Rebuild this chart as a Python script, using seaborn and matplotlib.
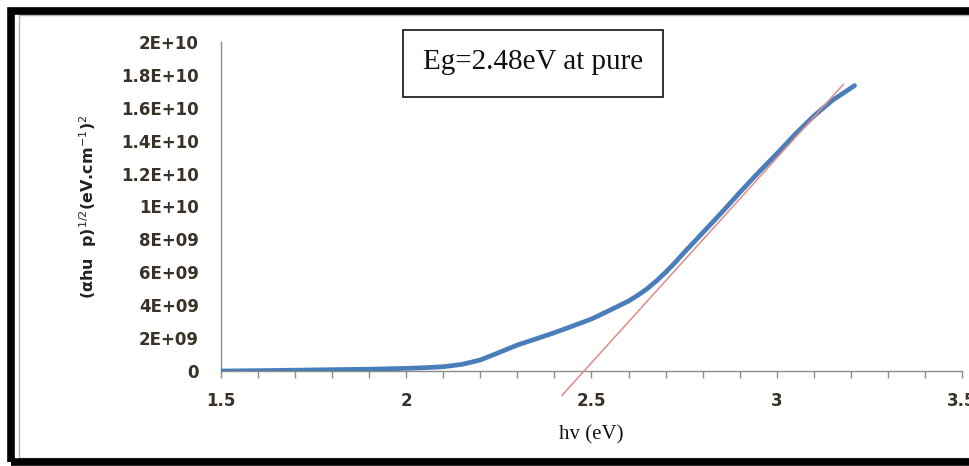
import matplotlib
matplotlib.use("Agg")
import matplotlib.pyplot as plt
import matplotlib.patches as mpatches
import seaborn as sns
import pandas as pd
import numpy as np

# Tauc plot data: photon energy (eV) and (alpha h nu)^2
hv = [1.50, 1.60, 1.70, 1.80, 1.90, 2.00, 2.05, 2.10, 2.15, 2.20, 2.25,
      2.30, 2.35, 2.40, 2.45, 2.50, 2.55, 2.60, 2.625, 2.65, 2.675, 2.70,
      2.725, 2.75, 2.80, 2.85, 2.90, 2.95, 3.00, 3.05, 3.10, 3.15, 3.21]
tauc = [0.00e9, 0.02e9, 0.05e9, 0.08e9, 0.11e9, 0.16e9, 0.20e9, 0.26e9,
        0.40e9, 0.67e9, 1.12e9, 1.58e9, 1.95e9, 2.33e9, 2.74e9, 3.16e9,
        3.70e9, 4.25e9, 4.60e9, 5.00e9, 5.47e9, 6.00e9, 6.58e9, 7.20e9,
        8.40e9, 9.60e9, 10.85e9, 12.05e9, 13.20e9, 14.40e9, 15.50e9,
        16.45e9, 17.35e9]

# Linear extrapolation of the absorption edge
eg = 2.48
edge_slope = 24.9e9
fit_x = [2.42, 3.18]

yticks = [0, 2e9, 4e9, 6e9, 8e9, 1e10, 1.2e10, 1.4e10, 1.6e10, 1.8e10, 2e10]
ytick_labels = ["0", "2E+09", "4E+09", "6E+09", "8E+09", "1E+10", "1.2E+10",
                "1.4E+10", "1.6E+10", "1.8E+10", "2E+10"]
xticks = [1.5, 2.0, 2.5, 3.0, 3.5]
xtick_labels = ["1.5", "2", "2.5", "3", "3.5"]

sns.set_theme(style="white")
plt.rcParams["font.family"] = ["DejaVu Sans"]

W, H = 969, 466
fig = plt.figure(figsize=(W / 100, H / 100), dpi=100)
ax = fig.add_axes([221 / W, 1 - 371 / H, (962 - 221) / W, (371 - 42) / H])

df = pd.DataFrame({"hv": hv, "tauc": tauc})
sns.lineplot(data=df, x="hv", y="tauc", ax=ax, color="#4a7ebb", linewidth=3.4,
             zorder=3)

fit_df = pd.DataFrame({"hv": fit_x,
                       "tauc": [edge_slope * (x - eg) for x in fit_x]})
sns.lineplot(data=fit_df, x="hv", y="tauc", ax=ax, color="#e08a8a",
             linewidth=1.1, zorder=4, clip_on=False)

ax.set_xlim(1.5, 3.5)
ax.set_ylim(0, 2e10)
ax.set_yticks(yticks)
ax.set_yticklabels(ytick_labels)
ax.set_xticks(xticks)
ax.set_xticklabels(xtick_labels)
ax.set_xticks(np.arange(1.5, 3.51, 0.1), minor=True)

for sp in ["top", "right"]:
    ax.spines[sp].set_visible(False)
for sp in ["left", "bottom"]:
    ax.spines[sp].set_color("#8c8c8c")
    ax.spines[sp].set_linewidth(1.0)

ax.tick_params(axis="y", which="both", length=0, pad=16, labelsize=12,
               labelcolor="#3a3228")
ax.tick_params(axis="x", which="both", direction="out", length=5,
               color="#8c8c8c", width=1, bottom=True, labelsize=12,
               labelcolor="#3a3228", pad=10)
for lab in ax.get_xticklabels() + ax.get_yticklabels():
    lab.set_fontweight("bold")

ax.set_xlabel("")
ax.set_ylabel("")
fig.text(591 / W, 1 - 435 / H, "hv (eV)", family="Liberation Serif",
         fontsize=15, color="#111111", ha="center", va="center")
fig.text(88 / W, 1 - 207 / H,
         r"(αhu  p)$^{1/2}$(eV.cm$^{-1}$)$^{2}$",
         rotation=90, ha="center", va="center", fontsize=11.5,
         fontweight="bold", color="#222222")

# Band gap annotation box
fig.patches.append(mpatches.Rectangle((403 / W, 1 - 97 / H),
                                      (663 - 403) / W, (97 - 30) / H,
                                      transform=fig.transFigure,
                                      facecolor="white", edgecolor="#222222",
                                      linewidth=1.3, zorder=5))
fig.text(533 / W, 1 - 62 / H, "Eg=2.48eV at pure", family="Liberation Serif",
         fontsize=21, color="#111111", ha="center", va="center", zorder=6)

# Outer frame
fig.patches.append(mpatches.Rectangle((11 / W, 1 - 462 / H),
                                      1.2, (462 - 11) / H,
                                      transform=fig.transFigure,
                                      fill=False, edgecolor="black",
                                      linewidth=5.5, zorder=10))
fig.patches.append(mpatches.Rectangle((19 / W, 1 - 458 / H),
                                      1.2, (458 - 15) / H,
                                      transform=fig.transFigure,
                                      fill=False, edgecolor="#b0b0b0",
                                      linewidth=1.0, zorder=9))

fig.savefig("out.png", dpi=100)
